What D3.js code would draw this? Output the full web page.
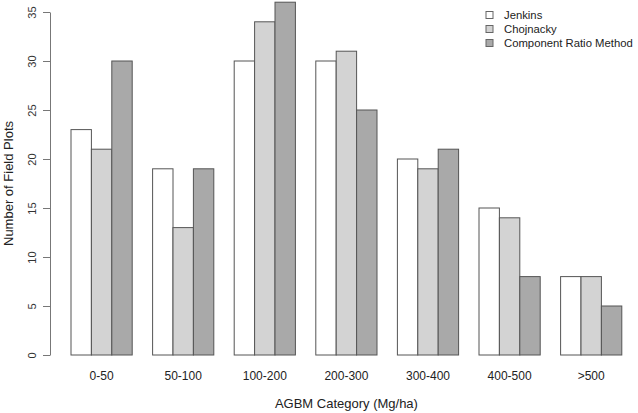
<!DOCTYPE html>
<html><head><meta charset="utf-8">
<script src="https://cdn.jsdelivr.net/npm/d3@7"></script>
<style>body{margin:0;background:#fff;}svg{display:block;font-family:"Liberation Sans",Arial,sans-serif;}</style>
</head><body>
<script>
const categories = ["0-50","50-100","100-200","200-300","300-400","400-500",">500"];
const seriesNames = ["Jenkins","Chojnacky","Component Ratio Method"];
const jenkins = [23,19,30,30,20,15,8];
const chojnacky = [21,13,34,31,19,14,8];
const crm = [30,19,36,25,21,8,5];
const yTicks = [0,5,10,15,20,25,30,35];
const colors = ["#ffffff","#d3d3d3","#a9a9a9"];

const W = 638, H = 413;
const svg = d3.select("body").append("svg").attr("width", W).attr("height", H);
const series = [jenkins, chojnacky, crm];

const unit = 20.4, x0 = 71 - unit;
const x = d3.scaleLinear().domain([0, 1]).range([x0, x0 + unit]);
const y = d3.scaleLinear().domain([0, 35]).range([355, 12]);

const stroke = "#555";
categories.forEach((c, k) => {
  series.forEach((s, j) => {
    const u = 1 + 4 * k + j;
    svg.append("rect")
      .attr("x", x(u)).attr("y", y(s[k]))
      .attr("width", x(u + 1) - x(u)).attr("height", y(0) - y(s[k]))
      .attr("fill", colors[j]).attr("stroke", stroke).attr("stroke-width", 1);
  });
  svg.append("text").attr("x", x(1 + 4 * k + 1.5)).attr("y", 380)
    .attr("text-anchor", "middle").attr("font-size", 12).attr("fill", "#222").text(c);
});

const axis = d3.axisLeft(y).tickValues(yTicks).tickSize(7).tickPadding(4).tickSizeOuter(0);
const g = svg.append("g").attr("transform", "translate(50,0)").call(axis);
g.select(".domain").attr("stroke", "#777");
g.selectAll(".tick line").attr("stroke", "#777");
g.selectAll(".tick text").attr("font-size", 11).attr("fill", "#333")
  .attr("font-family", '"Liberation Sans",Arial,sans-serif')
  .attr("x", 0).attr("y", 0).attr("dy", null).attr("text-anchor", "middle")
  .attr("transform", "translate(-14,0) rotate(-90)");

svg.append("text").attr("transform", `translate(13,${(12+355)/2}) rotate(-90)`)
  .attr("text-anchor", "middle").attr("font-size", 13).attr("fill", "#222").text("Number of Field Plots");
svg.append("text").attr("x", x(1 + 13.5)).attr("y", 408)
  .attr("text-anchor", "middle").attr("font-size", 13).attr("fill", "#222").text("AGBM Category (Mg/ha)");

seriesNames.forEach((n, i) => {
  const yy = 15 + i * 14;
  svg.append("rect").attr("x", 486).attr("y", yy - 3.5).attr("width", 7).attr("height", 7)
    .attr("fill", colors[i]).attr("stroke", "#666");
  svg.append("text").attr("x", 504).attr("y", yy + 4).attr("font-size", 11.3).attr("fill", "#222").text(n);
});
</script>
</body></html>
